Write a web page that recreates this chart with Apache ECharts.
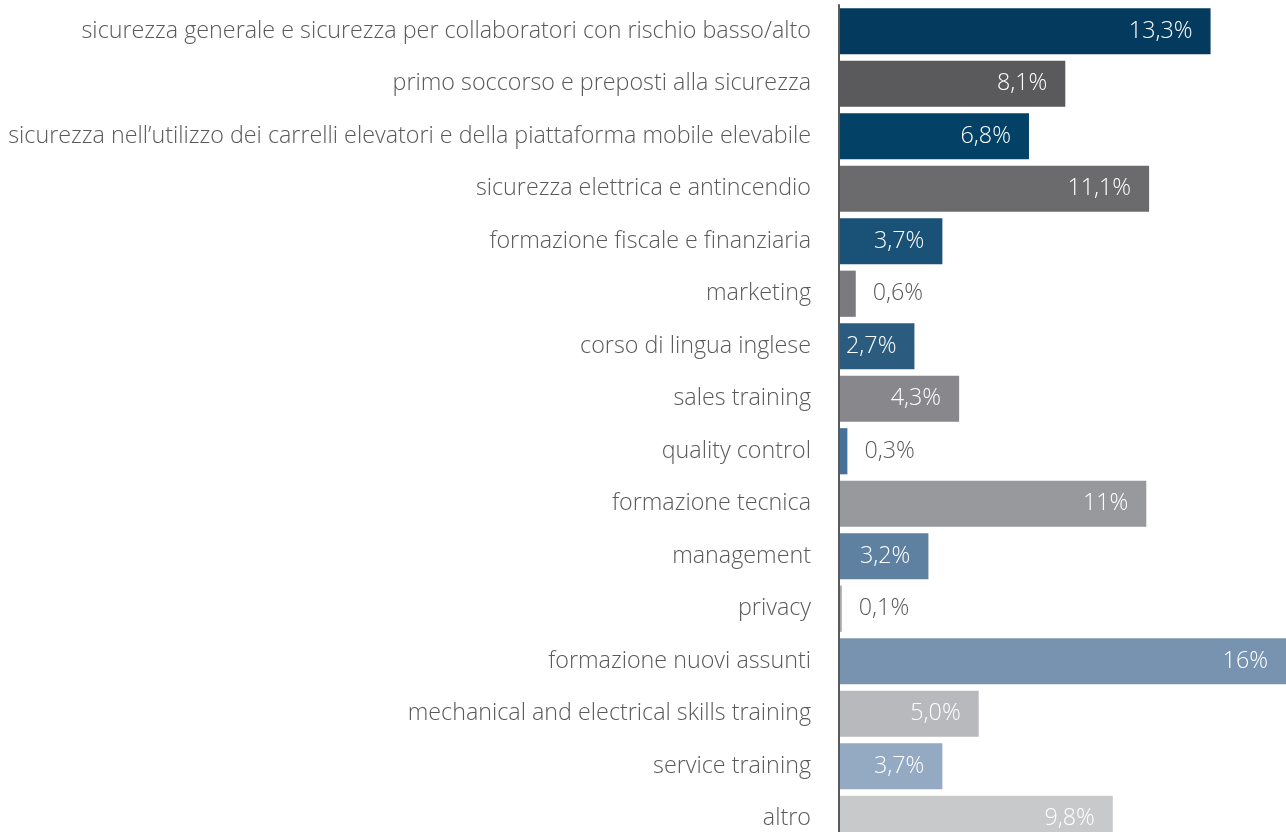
<!DOCTYPE html>
<html>
<head>
<meta charset="utf-8">
<script src="https://cdn.jsdelivr.net/npm/echarts@6/dist/echarts.min.js"></script>
<style>
  html, body { margin: 0; padding: 0; background: #ffffff; }
  #chart { width: 1286px; height: 832px; }
</style>
</head>
<body>
<div id="chart"></div>
<script>
// Training topics, shares of total training hours
const categories = [
  'sicurezza generale e sicurezza per collaboratori con rischio basso/alto',
  'primo soccorso e preposti alla sicurezza',
  'sicurezza nell’utilizzo dei carrelli elevatori e della piattaforma mobile elevabile',
  'sicurezza elettrica e antincendio',
  'formazione fiscale e finanziaria',
  'marketing',
  'corso di lingua inglese',
  'sales training',
  'quality control',
  'formazione tecnica',
  'management',
  'privacy',
  'formazione nuovi assunti',
  'mechanical and electrical skills training',
  'service training',
  'altro'
];
const values = [13.3, 8.1, 6.8, 11.1, 3.7, 0.6, 2.7, 4.3, 0.3, 11.0, 3.2, 0.1, 16.0, 5.0, 3.7, 9.8];
const valueLabels = ['13,3%', '8,1%', '6,8%', '11,1%', '3,7%', '0,6%', '2,7%', '4,3%', '0,3%', '11%', '3,2%', '0,1%', '16%', '5,0%', '3,7%', '9,8%'];
const barColors = [
  '#033a5e', '#5a5a5c', '#034266', '#6b6b6e',
  '#1a5177', '#7b7b7f', '#2b5c80', '#88888c',
  '#46729a', '#98999c', '#5e81a1', '#a7a8ab',
  '#7893b0', '#b8b9bc', '#94a9c2', '#c8c9cb'
];

const FONT = '"Open Sans", sans-serif';
const TEXT = '#595959';
const FONT_SIZE = 23.3;

const chart = echarts.init(document.getElementById('chart'), null, { renderer: 'canvas' });

const data = values.map((v, i) => {
  const inside = v >= 1;
  return {
    value: v,
    itemStyle: { color: barColors[i] },
    label: {
      show: true,
      position: inside ? 'insideRight' : 'right',
      distance: inside ? 18 : 17,
      color: inside ? '#ffffff' : TEXT,
      formatter: () => valueLabels[i]
    }
  };
});

chart.setOption({
  animation: false,
  grid: {
    left: 839, right: 0, top: 5, height: 840,
    containLabel: false,
    outerBoundsMode: 'none'
  },
  xAxis: {
    type: 'value',
    min: 0,
    max: 16,
    show: false
  },
  yAxis: {
    type: 'category',
    inverse: true,
    data: categories,
    z: 5,
    axisTick: { show: false },
    axisLine: { show: true, lineStyle: { color: '#595959', width: 2 } },
    axisLabel: {
      margin: 28,
      color: TEXT,
      fontFamily: FONT,
      fontWeight: 300,
      fontSize: FONT_SIZE
    }
  },
  series: [{
    type: 'bar',
    data: data,
    barCategoryGap: '12%',
    label: {
      fontFamily: FONT,
      fontWeight: 300,
      fontSize: FONT_SIZE
    }
  }]
});
</script>
</body>
</html>
